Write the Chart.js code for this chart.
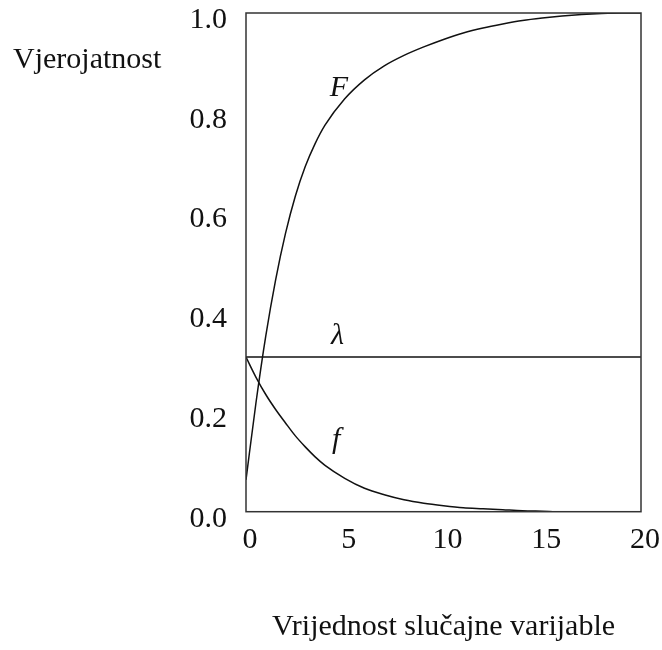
<!DOCTYPE html>
<html>
<head>
<meta charset="utf-8">
<script src="https://cdn.jsdelivr.net/npm/chart.js@4.4.0/dist/chart.umd.min.js"></script>
<style>
  body { margin: 0; background: #fff; }
  #wrap { width: 662px; height: 650px; }
</style>
</head>
<body>
<div id="wrap"><canvas id="myChart" width="662" height="650"></canvas></div>
<script>
// values
var xValues = [0, 0.5, 1, 1.5, 2, 2.5, 3, 3.5, 4, 5, 6, 7, 8, 9, 10, 11, 12, 13, 14, 15, 16, 17, 18, 19, 20];
var FValues = [0.064, 0.217, 0.352, 0.465, 0.558, 0.633, 0.692, 0.738, 0.775, 0.828, 0.866, 0.894, 0.915, 0.932, 0.947, 0.96, 0.97, 0.978, 0.985, 0.99, 0.994, 0.997, 0.999, 1.0, 1.0];
var fValues = [0.31, 0.27, 0.235, 0.205, 0.178, 0.152, 0.13, 0.11, 0.093, 0.067, 0.047, 0.034, 0.024, 0.017, 0.012, 0.008, 0.006, 0.004, 0.002, 0.001, 0, 0, 0, 0, 0];
var lambdaValues = [0.31, 0.31, 0.31, 0.31, 0.31, 0.31, 0.31, 0.31, 0.31, 0.31, 0.31, 0.31, 0.31, 0.31, 0.31, 0.31, 0.31, 0.31, 0.31, 0.31, 0.31, 0.31, 0.31, 0.31, 0.31];
var xTicks = [0, 5, 10, 15, 20];
var yTicks = [0, 0.2, 0.4, 0.6, 0.8, 1.0];

var yTitle = "Vjerojatnost";
var xTitle = "Vrijednost slučajne varijable";
// curve names and where they sit (data coords)
var curveLabels = [
  { text: "F", x: 4.71, y: 0.85 },
  { text: "λ", x: 4.63, y: 0.353 },
  { text: "f", x: 4.56, y: 0.144 }
];

var serif = '"Liberation Serif", "DejaVu Serif", serif';

function pts(ys) {
  var out = [];
  for (var i = 0; i < xValues.length; i++) out.push({ x: xValues[i], y: ys[i] });
  return out;
}

var lineStyle = {
  borderColor: "#111",
  borderWidth: 1.5,
  pointRadius: 0,
  fill: false,
  cubicInterpolationMode: "monotone"
};

var extras = {
  id: "extras",
  afterDraw: function (chart) {
    var ctx = chart.ctx, a = chart.chartArea;
    ctx.save();
    // box round the plot
    ctx.strokeStyle = "#333";
    ctx.lineWidth = 1.5;
    ctx.strokeRect(a.left, a.top, a.right - a.left, a.bottom - a.top);
    // y title, written flat at top left
    ctx.fillStyle = "#111";
    ctx.font = "30px " + serif;
    ctx.textAlign = "left";
    ctx.textBaseline = "alphabetic";
    ctx.fillText(yTitle, 13, 68);
    // curve names
    ctx.font = "italic 30px " + serif;
    ctx.textAlign = "center";
    ctx.textBaseline = "middle";
    var xs = chart.scales.x, ys = chart.scales.y;
    curveLabels.forEach(function (l) {
      ctx.fillText(l.text, xs.getPixelForValue(l.x), ys.getPixelForValue(l.y));
    });
    ctx.restore();
  }
};

var myChart = new Chart(document.getElementById("myChart").getContext("2d"), {
  type: "line",
  data: {
    datasets: [
      Object.assign({}, lineStyle, { label: "F", data: pts(FValues) }),
      Object.assign({}, lineStyle, { label: "λ", data: pts(lambdaValues), cubicInterpolationMode: "default", tension: 0 }),
      Object.assign({}, lineStyle, { label: "f", data: pts(fValues) })
    ]
  },
  options: {
    responsive: false,
    animation: false,
    layout: { padding: { left: 0, top: 13, right: 21, bottom: 0 } },
    plugins: { legend: { display: false }, tooltip: { enabled: false } },
    scales: {
      x: {
        type: "linear",
        min: 0,
        max: 20,
        grid: { display: false, drawTicks: false },
        border: { display: false },
        afterBuildTicks: function (s) { s.ticks = xTicks.map(function (v) { return { value: v }; }); },
        afterFit: function (s) {
          s.height = 650 - 511.7;
          s.paddingLeft = 0;
          s.paddingRight = 0;
        },
        ticks: {
          color: "#111",
          font: { family: serif, size: 30 },
          padding: 10,
          labelOffset: 4,
          maxRotation: 0
        },
        title: {
          display: true,
          text: xTitle,
          color: "#111",
          font: { family: serif, size: 30 },
          padding: { top: 0, bottom: 5 }
        }
      },
      y: {
        min: 0,
        max: 1,
        grid: { display: false, drawTicks: false },
        border: { display: false },
        afterBuildTicks: function (s) { s.ticks = yTicks.map(function (v) { return { value: v }; }); },
        afterFit: function (s) {
          s.width = 246;
          s.paddingTop = 0;
          s.paddingBottom = 0;
        },
        ticks: {
          color: "#111",
          font: { family: serif, size: 30 },
          padding: 19,
          labelOffset: 7,
          callback: function (v) { return v.toFixed(1); }
        }
      }
    }
  },
  plugins: [extras]
});
</script>
</body>
</html>
